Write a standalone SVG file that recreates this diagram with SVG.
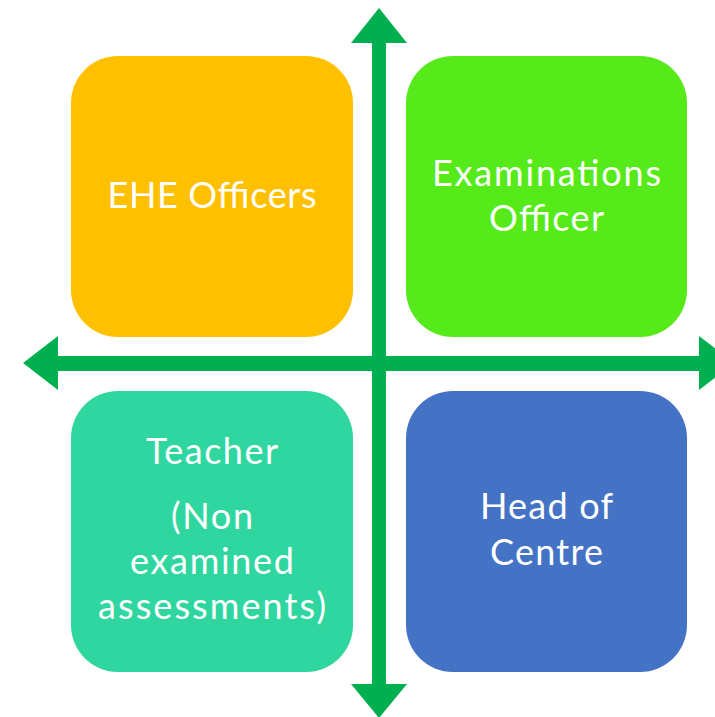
<svg xmlns="http://www.w3.org/2000/svg" width="715" height="717" viewBox="0 0 715 717">
  <style>
    .box { stroke: none; }
    .label { fill: #ffffff; font-family: Lato, "Open Sans", "Liberation Sans", sans-serif; font-size: 36px; text-anchor: middle; }
    .axis { fill: #00B050; }
  </style>
  <rect width="715" height="717" fill="#ffffff"/>

  <g id="ehe-officers">
    <rect class="box" x="71" y="56" width="282" height="281" rx="47" fill="#FFC000"/>
    <text class="label" x="212" y="208" textLength="209" lengthAdjust="spacing">EHE Officers</text>
  </g>

  <g id="examinations-officer">
    <rect class="box" x="406" y="56" width="281" height="281" rx="47" fill="#56EA1A"/>
    <text class="label" x="546.5" y="186" textLength="229" lengthAdjust="spacing">Examinations</text>
    <text class="label" x="546.5" y="231" textLength="115" lengthAdjust="spacing">Officer</text>
  </g>

  <g id="teacher">
    <rect class="box" x="71" y="391" width="282" height="281" rx="47" fill="#30D6A0"/>
    <text class="label" x="212" y="464" textLength="132" lengthAdjust="spacing">Teacher</text>
    <text class="label" x="212" y="529" textLength="82" lengthAdjust="spacing">(Non</text>
    <text class="label" x="212" y="574" textLength="164" lengthAdjust="spacing">examined</text>
    <text class="label" x="212" y="619" textLength="228" lengthAdjust="spacing">assessments)</text>
  </g>

  <g id="head-of-centre">
    <rect class="box" x="406" y="391" width="281" height="281" rx="47" fill="#4472C4"/>
    <text class="label" x="546.5" y="519" textLength="133" lengthAdjust="spacing">Head of</text>
    <text class="label" x="546.5" y="565" textLength="113" lengthAdjust="spacing">Centre</text>
  </g>

  <g id="connectors">
    <!-- vertical double-headed axis -->
    <polygon class="axis" points="379,8 407,43 386,43 386,684 407,684 379,718 351,684 372,684 372,43 351,43"/>
    <!-- horizontal double-headed axis -->
    <polygon class="axis" points="23,363 58,336 58,356 699,356 699,336 734,363 699,390 699,371 58,371 58,390"/>
  </g>
</svg>
